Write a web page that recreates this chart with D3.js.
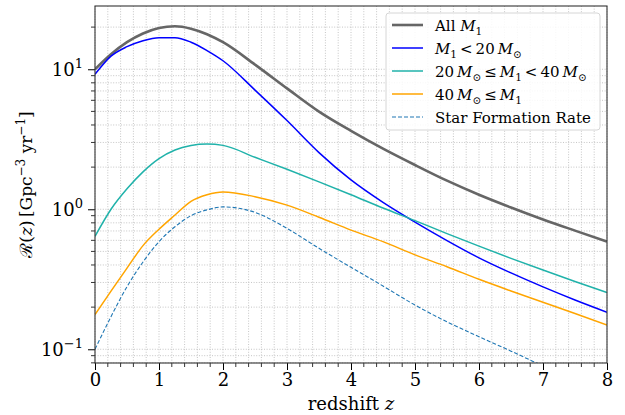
<!DOCTYPE html>
<html>
<head>
<meta charset="utf-8">
<script src="https://cdn.jsdelivr.net/npm/d3@7"></script>
<style>
  body { margin: 0; background: #fff; }
  text { font-family: "DejaVu Serif", serif; fill: #000; }
</style>
</head>
<body>
<svg id="chart" width="625" height="415"></svg>
<script>
// redshift grid the curves were read on
const redshift = [0, 0.25, 0.5, 0.75, 1, 1.25, 1.5, 1.75, 2, 2.5, 3, 3.5, 4, 4.5, 5, 5.5, 6, 6.5, 7, 7.5, 8]

// merger rate density, Gpc^-3 yr^-1
const rateAll = [10.0, 12.8, 15.6, 18.0, 19.7, 20.3, 19.5, 17.8, 15.6, 10.8, 7.3, 4.98, 3.63, 2.71, 2.07, 1.6, 1.27, 1.03, 0.846, 0.704, 0.588]
const rateLow = [9.2, 12.4, 14.5, 16.0, 16.8, 16.8, 15.6, 13.6, 11.5, 7.1, 4.3, 2.54, 1.62, 1.12, 0.81, 0.598, 0.45, 0.351, 0.279, 0.225, 0.184]
const rateMid = [0.64, 1.0, 1.4, 1.85, 2.3, 2.65, 2.85, 2.92, 2.86, 2.35, 1.93, 1.57, 1.27, 1.02, 0.83, 0.67, 0.545, 0.446, 0.368, 0.305, 0.254]
const rateHigh = [0.177, 0.26, 0.38, 0.55, 0.72, 0.91, 1.14, 1.27, 1.33, 1.23, 1.07, 0.877, 0.71, 0.587, 0.472, 0.389, 0.316, 0.261, 0.217, 0.18, 0.149]
const rateSFR = [0.1, 0.171, 0.28, 0.42, 0.587, 0.75, 0.9, 0.99, 1.04, 0.95, 0.73, 0.526, 0.385, 0.283, 0.207, 0.157, 0.123, 0.097, 0.076, 0.06, 0.047]

const xTicks = [0, 1, 2, 3, 4, 5, 6, 7, 8]
const yTicks = [0.1, 1, 10]
const yTickExp = ['\u22121', '0', '1']

const series = [
  { values: rateAll, color: '#666666', width: 2.6, dash: null },
  { values: rateLow, color: '#0000ff', width: 1.5, dash: null },
  { values: rateMid, color: '#20b2aa', width: 1.5, dash: null },
  { values: rateHigh, color: '#ffa500', width: 1.5, dash: null },
  { values: rateSFR, color: '#1f77b4', width: 1.1, dash: '4,2' }
]

const margin = { top: 6, right: 18, bottom: 52, left: 95 }
const width = 625
const height = 415
const innerW = width - margin.left - margin.right
const innerH = height - margin.top - margin.bottom

const svg = d3.select('#chart')

const x = d3.scaleLinear().domain([0, 8]).range([margin.left, margin.left + innerW])
const y = d3.scaleLog().domain([0.0798, 28.3]).range([margin.top + innerH, margin.top])

/** grid: every major and minor tick, dotted */
const xMinor = d3.range(0, 8.001, 0.2)
const yMinor = []
for (const dec of [0.01, 0.1, 1, 10]) {
  for (let k = 1; k < 10; k++) {
    const v = dec * k
    if (v >= y.domain()[0] && v <= y.domain()[1]) yMinor.push(v)
  }
}

const grid = svg.append('g').attr('stroke', '#b8b8b8').attr('stroke-width', 0.8).attr('stroke-dasharray', '1,1.6')
grid.selectAll('.gx').data(xMinor).enter().append('line')
  .attr('x1', d => x(d)).attr('x2', d => x(d))
  .attr('y1', margin.top).attr('y2', margin.top + innerH)
grid.selectAll('.gy').data(yMinor).enter().append('line')
  .attr('x1', margin.left).attr('x2', margin.left + innerW)
  .attr('y1', d => y(d)).attr('y2', d => y(d))

// clip
svg.append('clipPath').attr('id', 'clip')
  .append('rect')
  .attr('x', margin.left).attr('y', margin.top)
  .attr('width', innerW).attr('height', innerH)

const line = d3.line()
  .x((d, i) => x(redshift[i]))
  .y(d => y(d))
  .curve(d3.curveMonotoneX)

svg.append('g').attr('clip-path', 'url(#clip)')
  .selectAll('path')
  .data(series)
  .enter()
  .append('path')
  .attr('d', d => line(d.values))
  .attr('fill', 'none')
  .attr('stroke', d => d.color)
  .attr('stroke-width', d => d.width)
  .attr('stroke-dasharray', d => d.dash)

/** Axes */
const xAxis = d3.axisBottom(x).tickValues(xTicks).tickFormat(d3.format('d')).tickSize(7).tickPadding(3)
const gx = svg.append('g')
  .attr('transform', `translate(0,${margin.top + innerH})`)
  .call(xAxis)
gx.select('.domain').remove()
gx.selectAll('.tick text').style('font-size', '18px').style('font-family', '"DejaVu Serif", serif')

// minor x ticks
svg.append('g').selectAll('line')
  .data(xMinor.filter(d => Math.abs(d - Math.round(d)) > 1e-6))
  .enter().append('line')
  .attr('x1', d => x(d)).attr('x2', d => x(d))
  .attr('y1', margin.top + innerH).attr('y2', margin.top + innerH + 4)
  .attr('stroke', '#000').attr('stroke-width', 0.8)

const yAxis = d3.axisLeft(y).tickValues(yTicks).tickFormat('').tickSize(7)
const gy = svg.append('g')
  .attr('transform', `translate(${margin.left},0)`)
  .call(yAxis)
gy.select('.domain').remove()

// minor y ticks
svg.append('g').selectAll('line')
  .data(yMinor.filter(d => !yTicks.some(t => Math.abs(t - d) < 1e-9)))
  .enter().append('line')
  .attr('x1', margin.left - 4).attr('x2', margin.left)
  .attr('y1', d => y(d)).attr('y2', d => y(d))
  .attr('stroke', '#000').attr('stroke-width', 0.8)

// y tick labels: 10^n
const yLab = svg.append('g').selectAll('text')
  .data(yTicks)
  .enter().append('text')
  .attr('x', margin.left - 12)
  .attr('y', d => y(d) + 7)
  .attr('text-anchor', 'end')
  .style('font-size', '18px')
yLab.append('tspan').text('10')
yLab.append('tspan').attr('dy', -8).style('font-size', '13px').text((d, i) => yTickExp[i])

// spines
svg.append('rect')
  .attr('x', margin.left).attr('y', margin.top)
  .attr('width', innerW).attr('height', innerH)
  .attr('fill', 'none').attr('stroke', '#333').attr('stroke-width', 1.1)

// axis labels
const xl = svg.append('text')
  .attr('x', margin.left + innerW / 2)
  .attr('y', 410)
  .attr('text-anchor', 'middle')
  .style('font-size', '18px')
xl.append('tspan').text('redshift ')
xl.append('tspan').style('font-style', 'italic').text('z')

const yl = svg.append('text')
  .attr('transform', `translate(32,${margin.top + innerH / 2}) rotate(-90)`)
  .attr('text-anchor', 'middle')
  .style('font-size', '17px')
yl.append('tspan').text('\u211B(')
yl.append('tspan').style('font-style', 'italic').text('z')
yl.append('tspan').text(')\u2009[Gpc')
yl.append('tspan').attr('dy', -7).style('font-size', '12px').text('\u22123')
yl.append('tspan').attr('dy', 7).text(' yr')
yl.append('tspan').attr('dy', -7).style('font-size', '12px').text('\u22121')
yl.append('tspan').attr('dy', 7).text(']')

/** Legend */
const legend = svg.append('g')
legend.append('rect')
  .attr('x', 386).attr('y', 13).attr('width', 214).attr('height', 117)
  .attr('rx', 3).attr('fill', '#fff').attr('fill-opacity', 0.85)
  .attr('stroke', '#d6d6d6').attr('stroke-width', 1)

const legendLabels = [
  [['All ', ''], ['M', 'i'], ['1', 's']],
  [['M', 'i'], ['1', 's'], ['\u2009<\u200920\u2009', ''], ['M', 'i'], ['\u2299', 's']],
  [['20\u2009', ''], ['M', 'i'], ['\u2299', 's'], ['\u2009\u2264\u2009', ''], ['M', 'i'], ['1', 's'], ['\u2009<\u200940\u2009', ''], ['M', 'i'], ['\u2299', 's']],
  [['40\u2009', ''], ['M', 'i'], ['\u2299', 's'], ['\u2009\u2264\u2009', ''], ['M', 'i'], ['1', 's']],
  [['Star Formation Rate', '']]
]

const rows = legend.selectAll('.row').data(series).enter().append('g')
  .attr('transform', (d, i) => `translate(392,${25 + i * 23})`)
rows.append('line')
  .attr('x1', 0).attr('x2', 31)
  .attr('stroke', d => d.color)
  .attr('stroke-width', d => d.width)
  .attr('stroke-dasharray', d => d.dash)
rows.each(function (d, i) {
  const t = d3.select(this).append('text')
    .attr('x', 43).attr('y', 5.5)
    .style('font-size', '15px')
  let shifted = false
  legendLabels[i].forEach(([s, kind]) => {
    const sp = t.append('tspan').text(s)
    if (kind === 'i') sp.style('font-style', 'italic')
    if (kind === 's') {
      sp.attr('dy', shifted ? 0 : 4).style('font-size', '10.5px')
      shifted = true
    } else if (shifted) {
      sp.attr('dy', -4)
      shifted = false
    }
  })
})
</script>
</body>
</html>
